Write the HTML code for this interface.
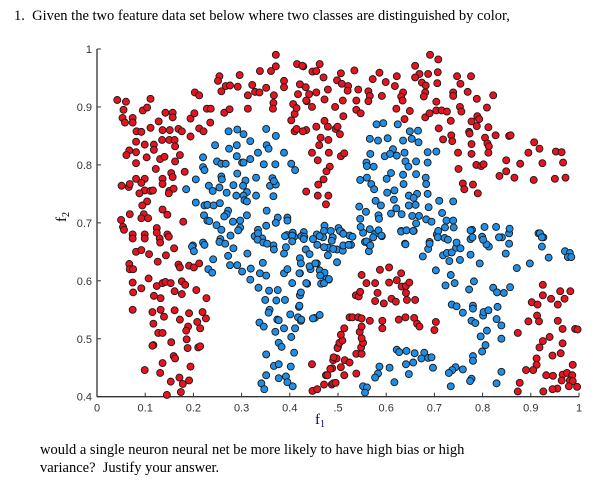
<!DOCTYPE html>
<html><head><meta charset="utf-8"><style>
html,body{margin:0;padding:0;background:#fff;width:599px;height:482px;overflow:hidden}
svg{display:block}
.t{font-family:"Liberation Serif",serif;font-size:14.5px;fill:#000}
.tk{font-family:"Liberation Sans",sans-serif;font-size:11px;fill:#333}
</style></head><body>
<svg id="chart" width="599" height="482" viewBox="0 0 599 482">
<text class="t" x="14" y="20">1.&#160;&#160;Given the two feature data set below where two classes are distinguished by color,</text>
<text class="t" x="40" y="454">would a single neuron neural net be more likely to have high bias or high</text>
<text class="t" x="40" y="472">variance?&#160; Justify your answer.</text>
<g id="axes"></g>
<g id="points"></g>
<text x="315" y="424" style="font-family:'Liberation Serif',serif;font-size:15px;fill:#00008b">f<tspan font-size="10" dy="3">1</tspan></text>
<text transform="translate(66,222) rotate(-90)" style="font-family:'Liberation Serif',serif;font-size:15px;fill:#000">f<tspan font-size="10" dy="3">2</tspan></text>
</svg>
<script>
const xTicks=[0,0.1,0.2,0.3,0.4,0.5,0.6,0.7,0.8,0.9,1];
const xTickLabels=["0","0.1","0.2","0.3","0.4",".5","0.6","0.7","0.8","0.9","1"];
const yTicks=[0.4,0.5,0.6,0.7,0.8,0.9,1];
const yTickLabels=["0.4","0.5","0.6","0.7","0.8","0.9","1"];
const redPoints=[
[.042,.912],[.060,.909],[.055,.895],[.053,.881],[.058,.873],[.074,.881],[.074,.873],[.095,.894],[.104,.899],[.111,.914],[.082,.858],[.092,.857],[.111,.864],[.128,.875],[.142,.890],[.157,.890],[.157,.882],[.136,.860],[.151,.860],[.169,.862],[.176,.858],[.194,.849],[.194,.880],[.202,.889],[.203,.925],[.212,.920],[.212,.863],[.221,.858],[.228,.897],[.236,.897],[.235,.873],[.254,.953],[.251,.945],[.258,.927],[.267,.936],[.264,.890],[.276,.937],[.275,.896],[.292,.935],[.296,.955],[.313,.897],[.313,.920],[.322,.938],[.328,.926],[.337,.925],[.351,.933],[.338,.962],[.361,.962],[.371,.970],[.371,.990],[.367,.920],[.366,.907],[.365,.897],[.388,.945],[.388,.934],[.403,.877],[.407,.905],[.410,.888],[.414,.898],[.415,.974],[.428,.970],[.417,.922],[.421,.939],[.433,.934],[.435,.910],[.440,.922],[.410,.858],[.414,.862],
[.081,.840],[.067,.825],[.061,.817],[.081,.822],[.099,.835],[.103,.813],[.118,.835],[.118,.826],[.131,.810],[.140,.814],[.135,.843],[.150,.843],[.161,.843],[.162,.832],[.172,.817],[.162,.806],[.081,.803],[.122,.793],[.136,.776],[.154,.786],[.157,.779],[.182,.788],[.051,.764],[.066,.762],[.068,.767],[.081,.776],[.099,.776],[.092,.769],[.099,.756],[.111,.755],[.116,.756],[.136,.767],[.150,.755],[.159,.759],[.149,.751],[.088,.751],[.104,.737],[.094,.730],[.136,.723],[.146,.714],[.050,.705],[.054,.693],[.068,.715],[.097,.715],[.092,.708],[.106,.708],[.179,.702],[.124,.691],[.146,.680],[.074,.680],[.099,.680],[.130,.673],
[.056,.688],[.074,.673],[.099,.673],[.124,.683],[.131,.666],[.149,.676],[.160,.656],[.081,.650],[.092,.653],[.108,.646],[.143,.644],[.067,.629],[.068,.620],[.075,.620],[.126,.633],[.169,.628],[.172,.623],[.191,.626],[.201,.623],[.212,.630],[.074,.597],[.107,.604],[.075,.580],[.092,.587],[.124,.591],[.136,.596],[.142,.598],[.153,.596],[.161,.582],[.176,.599],[.183,.593],[.176,.577],[.206,.584],[.227,.570],[.074,.550],[.118,.574],[.132,.570],[.115,.546],[.132,.550],[.139,.538],[.161,.549],[.172,.533],[.191,.544],[.219,.546],[.226,.535],[.208,.529],[.214,.518],[.117,.526],[.127,.510],[.136,.510],[.189,.521],[.185,.514],[.186,.499],[.154,.494],[.117,.489],[.115,.488],[.210,.485],[.214,.487],[.188,.484],[.159,.470],[.162,.466],[.136,.458],[.194,.452],[.131,.441],[.099,.446],[.153,.426],[.171,.433],[.178,.422],[.191,.428],[.174,.408],[.145,.403],
[.447,.410],[.457,.413],[.471,.421],[.475,.437],[.487,.421],[.488,.449],[.490,.463],[.497,.466],[.500,.486],[.446,.456],
[.478,.437],[.490,.423],[.495,.424],[.484,.448],[.491,.468],[.506,.451],[.513,.437],[.514,.463],[.524,.459],[.538,.440],[.538,.474],[.549,.474],[.548,.485],[.552,.493],[.549,.501],[.545,.512],[.549,.521],[.499,.484],[.503,.493],[.509,.497],[.506,.507],[.513,.518],[.524,.537],[.530,.537],[.542,.537],[.549,.535],[.537,.575],[.543,.573],[.546,.581],[.549,.610],[.559,.596],[.566,.531],[.577,.565],[.582,.579],[.577,.596],[.587,.619],[.606,.623],[.592,.531],[.592,.518],[.595,.561],[.611,.569],[.620,.564],[.606,.597],[.622,.601],[.631,.613],[.632,.590],[.641,.591],[.641,.579],[.648,.597],[.660,.567],[.643,.567],[.626,.533],[.640,.537],[.658,.536],[.664,.526],[.669,.521],[.703,.529],[.700,.515],
[.873,.510],[.895,.530],[.902,.563],[.914,.559],[.925,.593],[.925,.575],[.913,.540],[.917,.530],[.942,.569],[.956,.559],[.961,.582],[.970,.569],[.982,.582],[.956,.531],[.966,.517],[.992,.517],[.997,.516],[.939,.503],[.925,.496],[.918,.485],[.912,.466],[.966,.492],[.962,.475],[.945,.471],[.912,.455],[.890,.446],[.905,.446],[.932,.437],[.946,.436],[.966,.438],[.975,.441],[.986,.437],[.987,.455],[.964,.428],[.981,.428],[.987,.427],[.996,.417],[.955,.414],[.945,.413],[.926,.409],[.877,.424],[.873,.409],[.979,.418],
[.426,.971],[.447,.961],[.455,.962],[.462,.974],[.470,.951],[.498,.946],[.506,.958],[.508,.940],[.521,.936],[.520,.928],[.534,.963],[.542,.930],[.572,.948],[.586,.959],[.599,.943],[.622,.953],[.618,.936],[.660,.971],[.669,.957],[.660,.951],[.674,.942],[.687,.957],[.707,.960],[.706,.941],[.682,.937],[.691,.990],[.708,.982],[.747,.953],[.776,.953],[.754,.940],[.769,.926],[.739,.925],[.739,.919],[.704,.909],[.681,.925],[.678,.918],[.635,.925],[.631,.918],[.634,.911],[.591,.919],[.563,.927],[.566,.919],[.563,.910],[.538,.911],[.538,.895],[.547,.889],[.510,.911],[.494,.900],[.472,.913],[.479,.930],[.455,.925],[.434,.911],[.446,.900],[.511,.884],[.621,.897],[.649,.893],[.638,.879],[.681,.882],[.690,.889],[.704,.894],[.715,.894],[.726,.892],[.734,.876],[.753,.900],[.756,.892],[.788,.914],[.809,.899],[.822,.920],[.789,.884],[.793,.879],[.777,.875],[.788,.867],[.812,.865],[.772,.857],[.773,.854],[.805,.847],[.827,.851],[.855,.850],[.858,.851],[.810,.837],[.813,.832],[.777,.836],[.777,.819],[.749,.821],[.812,.821],[.709,.863],[.735,.851],[.737,.841],[.718,.844],[.849,.808],[.787,.800],[.797,.798],[.802,.801],[.750,.793],[.835,.781],[.849,.789],[.866,.778],[.878,.802],[.895,.821],[.907,.839],[.918,.828],[.924,.803],[.952,.823],[.964,.822],[.967,.804],[.972,.778],[.950,.776],[.906,.774],[.759,.768],[.780,.766],[.790,.751],[.762,.758],
[.434,.860],[.455,.866],[.472,.876],[.479,.866],[.495,.862],[.499,.866],[.504,.853],[.464,.847],[.480,.843],[.461,.834],[.446,.821],[.458,.808],[.481,.821],[.506,.815],[.513,.820],[.483,.797],[.476,.789],[.470,.775],[.459,.766],[.480,.747],[.458,.747],[.475,.732],[.434,.754],[.427,.858]
];
const bluePoints=[
[.273,.858],[.291,.861],[.304,.853],[.351,.862],[.371,.850],[.318,.841],[.290,.834],[.245,.834],[.274,.828],[.352,.834],[.356,.828],[.388,.821],[.220,.813],[.249,.806],[.258,.802],[.267,.802],[.290,.815],[.301,.804],[.304,.804],[.318,.810],[.334,.821],[.346,.801],[.370,.801],[.403,.802],[.411,.791],[.220,.796],[.223,.791],[.258,.780],[.259,.775],[.283,.765],[.291,.785],[.308,.773],[.303,.764],[.311,.753],[.330,.778],[.359,.764],[.371,.766],[.364,.777],[.367,.772],[.185,.758],[.205,.775],[.232,.764],[.240,.755],[.254,.761],[.269,.752],[.289,.747],[.304,.747],[.306,.739],[.311,.737],[.330,.747],[.366,.746],[.205,.735],[.223,.730],[.229,.731],[.242,.730],[.255,.734],[.272,.721],[.269,.715],[.222,.713],[.229,.704],[.233,.703],[.264,.711],[.282,.702],[.297,.704],[.311,.713],[.352,.721],[.375,.709],[.395,.709],[.395,.704],[.371,.700],[.351,.695],[.334,.688],[.297,.692],[.293,.687],[.248,.696],[.258,.688],[.277,.678],[.256,.672],[.199,.661],[.220,.666],[.327,.677],[.343,.673],[.366,.661],[.394,.679],[.406,.683],[.409,.676],[.429,.684],[.424,.677],[.430,.676],[.456,.680],[.472,.695],[.471,.686],[.485,.686],[.489,.675],[.501,.691],
[.197,.659],[.201,.651],[.223,.662],[.241,.637],[.231,.620],[.239,.614],[.254,.667],[.266,.664],[.272,.643],[.283,.656],[.276,.627],[.291,.627],[.312,.647],[.301,.616],[.319,.621],[.318,.602],[.334,.682],[.333,.671],[.345,.666],[.353,.664],[.344,.631],[.338,.613],[.351,.609],[.335,.588],[.357,.583],[.375,.584],[.349,.567],[.372,.566],[.390,.567],[.358,.550],[.356,.545],[.337,.528],[.346,.521],[.374,.533],[.377,.532],[.370,.512],[.388,.518],[.367,.654],[.388,.647],[.390,.677],[.405,.678],[.405,.668],[.392,.658],[.388,.613],[.395,.620],[.421,.613],[.405,.596],[.421,.575],[.436,.595],[.443,.620],[.421,.639],[.433,.654],[.448,.672],[.429,.672],[.441,.646],[.419,.555],[.401,.542],[.417,.537],[.423,.531],[.411,.518],[.403,.503],[.377,.493],[.383,.486],[.409,.476],[.351,.473],[.367,.453],[.377,.456],[.402,.452],[.351,.437],[.377,.432],[.392,.435],[.395,.425],[.406,.418],[.341,.423],[.347,.413],[.452,.536],[.462,.541],[.456,.630],[.462,.618],[.472,.614],[.476,.603],[.465,.595],[.481,.602],[.457,.662],[.469,.675],[.480,.657],[.498,.654],[.498,.632],
[.462,.677],[.471,.658],[.479,.644],[.490,.655],[.510,.652],[.511,.661],[.508,.684],[.527,.662],[.524,.678],[.552,.683],[.556,.667],[.565,.663],[.564,.651],[.577,.681],[.591,.677],[.639,.664],[.631,.686],[.657,.686],[.676,.642],[.690,.667],[.687,.655],[.705,.680],[.721,.674],[.718,.644],[.726,.648],[.736,.649],[.745,.657],[.754,.656],[.753,.636],[.731,.634],[.775,.645],[.794,.630],[.778,.688],[.775,.672],[.799,.676],[.813,.659],[.808,.663],[.840,.675],[.855,.682],[.848,.647],[.871,.622],[.898,.630],[.916,.682],[.926,.675],[.923,.659],[.937,.640],[.971,.651],[.981,.648],[.977,.641],[.984,.641],[.420,.613],[.423,.630],[.441,.625],[.453,.630],[.463,.609],[.471,.596],[.481,.603],[.434,.596],[.423,.580],[.420,.557],[.424,.533],[.448,.535],
[.703,.618],[.734,.610],[.742,.596],[.723,.592],[.772,.585],[.782,.599],[.822,.588],[.830,.580],[.844,.579],[.857,.589],[.736,.559],[.746,.556],[.759,.545],[.780,.557],[.780,.552],[.801,.540],[.802,.546],[.812,.549],[.831,.555],[.829,.534],[.839,.523],[.777,.531],[.785,.527],[.809,.514],[.796,.504],[.839,.500],[.806,.489],[.799,.478],[.780,.470],[.780,.462],[.777,.431],[.774,.427],[.759,.447],[.744,.451],[.737,.446],[.730,.441],[.734,.418],[.829,.423],[.839,.443],[.622,.481],[.627,.477],[.642,.479],[.659,.475],[.679,.476],[.673,.466],[.687,.467],[.694,.468],[.697,.450],[.641,.456],[.647,.439],[.656,.459],[.607,.450],[.586,.452],[.583,.440],[.577,.433],[.617,.425],[.552,.418],[.560,.416],[.556,.407],
[.580,.870],[.594,.872],[.624,.870],[.649,.858],[.666,.859],[.635,.842],[.653,.845],[.667,.839],[.566,.845],[.583,.842],[.603,.846],[.614,.827],[.597,.815],[.608,.819],[.622,.816],[.638,.821],[.686,.822],[.704,.823],[.567,.819],[.559,.804],[.574,.797],[.560,.798],[.640,.806],[.646,.797],[.662,.806],[.686,.804],[.546,.774],[.560,.778],[.569,.767],[.575,.758],[.601,.776],[.610,.786],[.602,.752],[.617,.756],[.635,.783],[.636,.767],[.662,.784],[.682,.778],[.683,.767],[.664,.750],[.647,.747],[.657,.743],[.686,.750],[.578,.738],[.589,.730],[.616,.740],[.621,.725],[.647,.730],[.661,.731],[.688,.727],[.710,.738],[.739,.737],[.544,.728],[.558,.719],[.546,.707],[.584,.713],[.585,.707],[.610,.716],[.632,.715],[.654,.712],[.668,.712],[.683,.706],[.694,.702],[.716,.717],[.725,.704],[.739,.704],[.662,.699],[.547,.693],[.566,.689],[.584,.687],[.631,.685],[.642,.687],[.656,.686],[.708,.686],[.722,.692],[.740,.692],[.775,.687],[.804,.693],[.828,.693],[.856,.690],[.919,.682],[.504,.686],[.511,.681],[.530,.676],[.573,.675],[.590,.678],[.487,.669],[.522,.662],[.559,.668],[.567,.661],[.640,.663],[.690,.664],[.707,.675],[.728,.671],[.746,.666],[.779,.675],[.801,.671],[.834,.675],[.855,.664],[.923,.675]
];
const X0=97,X1=579,Y0=396.7,Y1=49;
function sx(v){return X0+(v-0)/(1-0)*(X1-X0);}
function sy(v){return Y0-(v-0.4)/(1-0.4)*(Y0-Y1);}
const NS='http://www.w3.org/2000/svg';
const axes=document.getElementById('axes');
const pts=document.getElementById('points');
function mk(tag,attrs,parent){const e=document.createElementNS(NS,tag);for(const k in attrs)e.setAttribute(k,attrs[k]);parent.appendChild(e);return e;}
let ln=mk('line',{x1:X0,y1:Y1,x2:X0,y2:Y0,stroke:'#333','stroke-width':1.3},axes);


ln=mk('line',{x1:X0,y1:Y0,x2:X1,y2:Y0,stroke:'#333','stroke-width':1.3},axes);


xTicks.forEach((v,i)=>{
  const t=mk('line',{x1:sx(v),y1:Y0,x2:sx(v),y2:Y0-4,stroke:'#333','stroke-width':1},axes);
  
  
  const l=mk('text',{x:sx(v),y:Y0+15,'text-anchor':'middle','class':'tk'},axes);
  l.textContent=xTickLabels[i];
  
  
});
yTicks.forEach((v,i)=>{
  const t=mk('line',{x1:X0,y1:sy(v),x2:X0+4,y2:sy(v),stroke:'#333','stroke-width':1},axes);
  
  
  const l=mk('text',{x:X0-5,y:sy(v)+4,'text-anchor':'end','class':'tk'},axes);
  l.textContent=yTickLabels[i];
  
  
});
redPoints.forEach(p=>{
  const c=mk('circle',{cx:sx(p[0]),cy:sy(p[1]),r:3.5,fill:'#e8131f',stroke:'#1a1a1a','stroke-width':0.9},pts);
  
  
});
bluePoints.forEach(p=>{
  const c=mk('circle',{cx:sx(p[0]),cy:sy(p[1]),r:3.5,fill:'#1e8ee6',stroke:'#1a1a1a','stroke-width':0.9},pts);
  
  
});
</script>
</body></html>
